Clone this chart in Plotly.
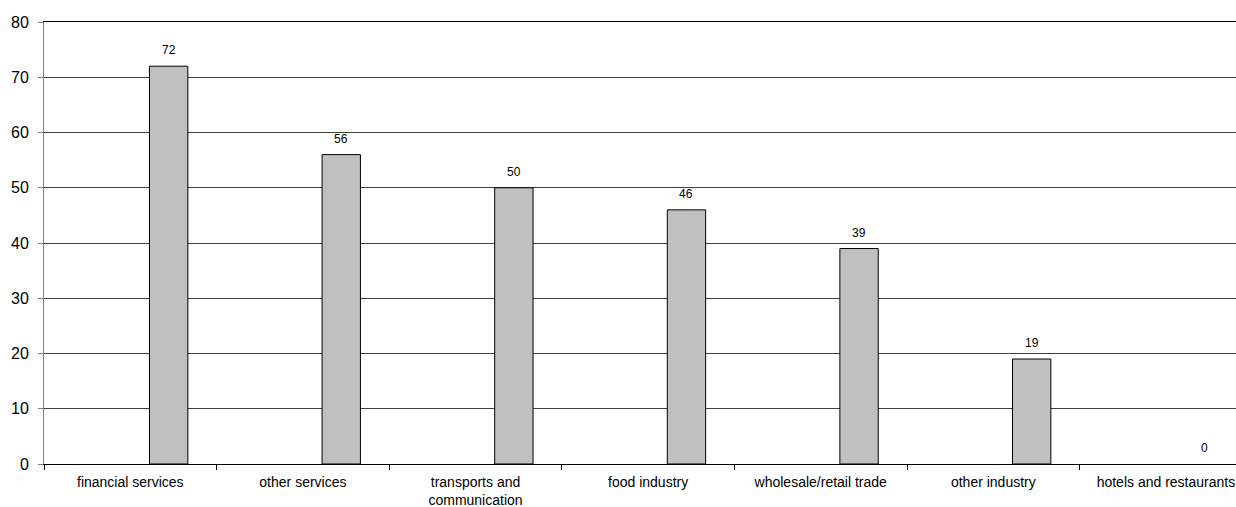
import plotly.graph_objects as go

categories = ["financial services", "other services", "transports and<br>communication",
              "food industry", "wholesale/retail trade", "other industry", "hotels and restaurants"]
values = [72, 56, 50, 46, 39, 19, 0]
y_ticks = [0, 10, 20, 30, 40, 50, 60, 70, 80]

FONT = "Liberation Sans, Arial, sans-serif"
bar_w = 0.2222
bar_off = 0.1111

fig = go.Figure()
fig.add_trace(go.Bar(
    x=categories, y=values,
    width=bar_w, offset=bar_off,
    marker=dict(color="#C0C0C0",
                line=dict(color="#000000", width=[1 if v > 0 else 0 for v in values])),
    hoverinfo="skip", showlegend=False,
))

cat_px = 1192 / 6.906
for c, v in zip(categories, values):
    fig.add_annotation(x=c, y=v, text=str(v), showarrow=False,
                       xref="x", yref="y", yanchor="bottom",
                       xshift=(bar_off + bar_w / 2) * cat_px, yshift=7,
                       font=dict(family=FONT, size=12, color="#000"))

fig.update_layout(
    width=1236, height=507,
    margin=dict(l=44, r=0, t=21.5, b=43, pad=0, autoexpand=False),
    paper_bgcolor="white", plot_bgcolor="white",
    font=dict(family=FONT, color="#000"),
    xaxis=dict(
        type="category", range=[-0.5, 6.406], automargin=False,
        showline=True, linecolor="#000", linewidth=1, mirror=True,
        ticks="outside", tickson="boundaries", ticklen=5, tickcolor="#000",
        showgrid=False, tickfont=dict(family=FONT, size=14, color="#000"),
        ticklabelstandoff=5, fixedrange=True,
    ),
    yaxis=dict(
        range=[0, 80], tickvals=y_ticks, automargin=False,
        showline=True, linecolor="#808080", linewidth=1,
        ticks="outside", ticklen=5, tickcolor="#808080",
        showgrid=True, gridcolor="#404040", gridwidth=1, zeroline=False,
        tickfont=dict(family=FONT, size=16, color="#000"),
        ticklabelstandoff=6, fixedrange=True,
    ),
)

fig.write_html("out.html")
